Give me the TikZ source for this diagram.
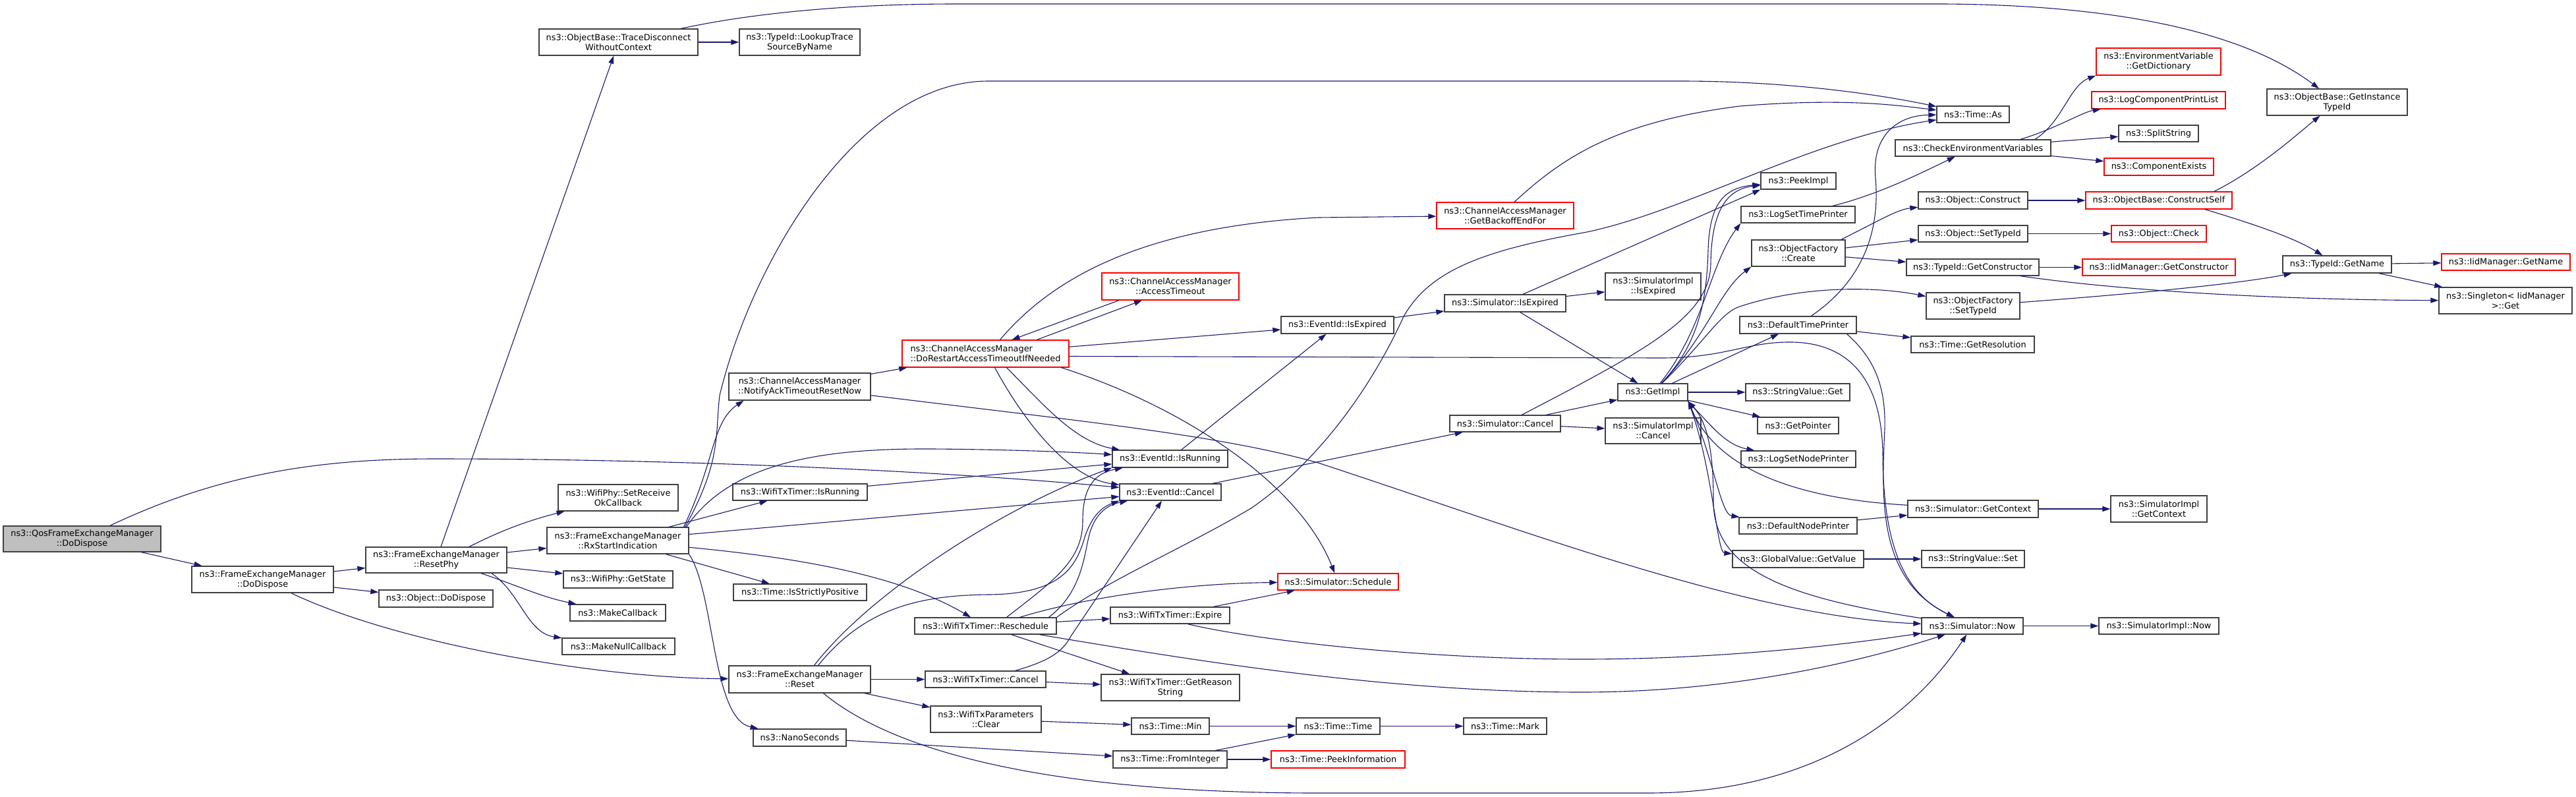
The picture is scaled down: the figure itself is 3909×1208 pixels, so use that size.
\documentclass[tikz,border=0pt]{standalone}
\usepackage{fontspec}
\setmainfont{DejaVu Sans}
\usetikzlibrary{arrows.meta}
\definecolor{mblue}{HTML}{191970}
\definecolor{nodegray}{HTML}{404040}
\definecolor{rootfill}{HTML}{BFBFBF}
\definecolor{nred}{HTML}{FF0000}
\tikzset{
  nd/.style={draw=nodegray, fill=white, line width=1.3pt, inner sep=0pt, align=center,
             font=\fontsize{12.9pt}{15pt}\selectfont, text=black},
  rd/.style={nd, draw=nred},
  sz/.style 2 args={minimum width=#1pt, minimum height=#2pt},
  e/.style={draw=mblue, line width=1.1pt, -{Triangle[length=12pt,width=8pt]}},
}
\begin{document}
\begin{tikzpicture}[x=1pt,y=-1pt]
\fill[white] (0,0) rectangle (3909,1208);
\useasboundingbox (0,0) rectangle (3909,1208);
% ---------- nodes ----------
\node[nd,sz={239}{39},fill=rootfill] (qos) at (124.5,817.5) {ns3::QosFrameExchangeManager\\::DoDispose};
\node[nd,sz={215}{40}] (femdd) at (398.5,879) {ns3::FrameExchangeManager\\::DoDispose};
\node[nd,sz={214}{39}] (resetphy) at (662,849.5) {ns3::FrameExchangeManager\\::ResetPhy};
\node[nd,sz={173}{26}] (objdd) at (661.5,908) {ns3::Object::DoDispose};
\node[nd,sz={241}{40}] (trace) at (938.5,64) {ns3::ObjectBase::TraceDisconnect\\WithoutContext};
\node[nd,sz={183}{40}] (lookup) at (1213.5,64) {ns3::TypeId::LookupTrace\\SourceByName};
\node[nd,sz={182}{40}] (setrecv) at (938,755) {ns3::WifiPhy::SetReceive\\OkCallback};
\node[nd,sz={215}{40}] (rxstart) at (937.5,820) {ns3::FrameExchangeManager\\::RxStartIndication};
\node[nd,sz={166}{26}] (getstate) at (938,879) {ns3::WifiPhy::GetState};
\node[nd,sz={145}{25}] (makecb) at (937.5,929.5) {ns3::MakeCallback};
\node[nd,sz={171}{25}] (makenull) at (938.5,980.5) {ns3::MakeNullCallback};
\node[nd,sz={215}{41}] (notify) at (1213.5,586.5) {ns3::ChannelAccessManager\\::NotifyAckTimeoutResetNow};
\node[nd,sz={204}{25}] (txisrun) at (1214,746.5) {ns3::WifiTxTimer::IsRunning};
\node[nd,sz={202}{25}] (strict) at (1214,898.5) {ns3::Time::IsStrictlyPositive};
\node[nd,sz={215}{41}] (reset) at (1213.5,1030.5) {ns3::FrameExchangeManager\\::Reset};
\node[nd,sz={141}{26}] (nano) at (1213.5,1119) {ns3::NanoSeconds};
\node[rd,sz={253}{41},align=left] (dorestart) at (1495.5,536.5) {ns3::ChannelAccessManager\\::DoRestartAccessTimeoutIfNeeded};
\node[rd,sz={208}{41}] (access) at (1776,434.5) {ns3::ChannelAccessManager\\::AccessTimeout};
\node[nd,sz={175}{26}] (evisrun) at (1775.5,696) {ns3::EventId::IsRunning};
\node[nd,sz={154}{25}] (evcancel) at (1776,746.5) {ns3::EventId::Cancel};
\node[nd,sz={215}{25}] (resched) at (1495.5,949.5) {ns3::WifiTxTimer::Reschedule};
\node[nd,sz={183}{25}] (txcancel) at (1495.5,1030.5) {ns3::WifiTxTimer::Cancel};
\node[nd,sz={168}{40}] (txclear) at (1496,1091) {ns3::WifiTxParameters\\::Clear};
\node[nd,sz={181}{25}] (expire) at (1775.5,933.5) {ns3::WifiTxTimer::Expire};
\node[nd,sz={210}{40}] (reason) at (1776,1043) {ns3::WifiTxTimer::GetReason\\String};
\node[nd,sz={118}{25}] (tmin) at (1776,1101.5) {ns3::Time::Min};
\node[nd,sz={173}{26}] (fromint) at (1775.5,1152) {ns3::Time::FromInteger};
\node[nd,sz={171}{26}] (evexp) at (2029.5,493) {ns3::EventId::IsExpired};
\node[rd,sz={183}{25}] (schedule) at (2030.5,882.5) {ns3::Simulator::Schedule};
\node[nd,sz={127}{25}] (ttime) at (2030.5,1101.5) {ns3::Time::Time};
\node[rd,sz={203}{26}] (peekinfo) at (2030.5,1152) {ns3::Time::PeekInformation};
\node[rd,sz={208}{40}] (backoff) at (2284,327) {ns3::ChannelAccessManager\\::GetBackoffEndFor};
\node[nd,sz={184}{26}] (simisexp) at (2284,460) {ns3::Simulator::IsExpired};
\node[nd,sz={168}{25}] (simcancel) at (2284,642.5) {ns3::Simulator::Cancel};
\node[nd,sz={126}{25}] (tmark) at (2284,1101.5) {ns3::Time::Mark};
\node[nd,sz={145}{41}] (implisexp) at (2508.5,434.5) {ns3::SimulatorImpl\\::IsExpired};
\node[nd,sz={106}{26}] (getimpl) at (2508,595) {ns3::GetImpl};
\node[nd,sz={145}{39}] (implcancel) at (2508.5,653.5) {ns3::SimulatorImpl\\::Cancel};
\node[nd,sz={114}{25}] (peekimpl) at (2729,274.5) {ns3::PeekImpl};
\node[nd,sz={173}{25}] (logtime) at (2728.5,325.5) {ns3::LogSetTimePrinter};
\node[nd,sz={142}{40}] (ofcreate) at (2729,384) {ns3::ObjectFactory\\::Create};
\node[nd,sz={177}{26}] (deftime) at (2728.5,493) {ns3::DefaultTimePrinter};
\node[nd,sz={158}{26}] (strget) at (2728,595) {ns3::StringValue::Get};
\node[nd,sz={123}{25}] (getptr) at (2728.5,645.5) {ns3::GetPointer};
\node[nd,sz={174}{25}] (lognode) at (2729,696.5) {ns3::LogSetNodePrinter};
\node[nd,sz={179}{25}] (defnode) at (2728.5,797.5) {ns3::DefaultNodePrinter};
\node[nd,sz={199}{26}] (gvget) at (2728.5,848) {ns3::GlobalValue::GetValue};
\node[nd,sz={110}{25}] (timeas) at (2994,173.5) {ns3::Time::As};
\node[nd,sz={236}{25}] (checkenv) at (2994,224.5) {ns3::CheckEnvironmentVariables};
\node[nd,sz={166}{26}] (objconstruct) at (2994,304) {ns3::Object::Construct};
\node[nd,sz={166}{25}] (objsettid) at (2994,354.5) {ns3::Object::SetTypeId};
\node[nd,sz={201}{25}] (tidgetctor) at (2993.5,405.5) {ns3::TypeId::GetConstructor};
\node[nd,sz={142}{40}] (ofsettid) at (2994,464) {ns3::ObjectFactory\\::SetTypeId};
\node[nd,sz={187}{25}] (getres) at (2993.5,522.5) {ns3::Time::GetResolution};
\node[nd,sz={198}{26}] (simctx) at (2994,772) {ns3::Simulator::GetContext};
\node[nd,sz={156}{26}] (strset) at (2994,848) {ns3::StringValue::Set};
\node[nd,sz={154}{25}] (simnow) at (2993,949.5) {ns3::Simulator::Now};
\node[rd,sz={189}{41}] (getdict) at (3275.5,93.5) {ns3::EnvironmentVariable\\::GetDictionary};
\node[rd,sz={203}{26}] (logcomp) at (3275.5,152) {ns3::LogComponentPrintList};
\node[nd,sz={121}{25}] (split) at (3275.5,202.5) {ns3::SplitString};
\node[rd,sz={166}{26}] (compexists) at (3276,253) {ns3::ComponentExists};
\node[rd,sz={222}{26}] (constructself) at (3276,304) {ns3::ObjectBase::ConstructSelf};
\node[rd,sz={144}{25}] (objcheck) at (3276,354.5) {ns3::Object::Check};
\node[rd,sz={232}{25}] (iidctor) at (3276,405.5) {ns3::IidManager::GetConstructor};
\node[nd,sz={146}{40}] (implctx) at (3276,772) {ns3::SimulatorImpl\\::GetContext};
\node[nd,sz={182}{25}] (implnow) at (3276,949.5) {ns3::SimulatorImpl::Now};
\node[nd,sz={213}{40}] (getinst) at (3546.5,155) {ns3::ObjectBase::GetInstance\\TypeId};
\node[nd,sz={165}{26}] (tidname) at (3546.5,401) {ns3::TypeId::GetName};
\node[rd,sz={195}{25}] (iidname) at (3802.5,397.5) {ns3::IidManager::GetName};
\node[nd,sz={202}{40}] (singleton) at (3802,456) {ns3::Singleton< IidManager\\>::Get};
% ---------- edges ----------
\draw[e] (qos) -- (femdd);
\draw[e] (qos) .. controls (330,720) and (480,696) .. (660,696) .. controls (1000,696) and (1400,712) .. (evcancel);
\draw[e] (femdd) -- (resetphy);
\draw[e] (femdd) -- (objdd);
\draw[e] (femdd) .. controls (600,975) and (900,1028) .. (reset);
\draw[e] (resetphy) -- (trace);
\draw[e] ([xshift=50pt]resetphy.north) .. controls (760,805) and (800,790) .. (setrecv);
\draw[e] (resetphy) -- (rxstart);
\draw[e] (resetphy) -- (getstate);
\draw[e] ([xshift=68pt]resetphy.south) .. controls (790,890) and (820,905) .. (makecb);
\draw[e] ([xshift=84pt]resetphy.south) .. controls (790,900) and (800,960) .. (makenull);
\draw[e] (trace) -- (lookup);
\draw[e] (trace) .. controls (1150,18) and (1300,6) .. (1450,6) -- (2950,6) .. controls (3250,8) and (3420,60) .. (getinst);
\draw[e] ([xshift=100pt]rxstart.north) .. controls (1085,700) and (1080,640) .. ([xshift=-85pt]notify.south);
\draw[e] ([xshift=102pt]rxstart.north) .. controls (1095,700) and (1085,660) .. (1092,600) .. controls (1140,400) and (1300,123) .. (1500,123) -- (2550,123) .. controls (2720,123) and (2860,145) .. (timeas);
\draw[e] ([xshift=104pt]rxstart.north) .. controls (1110,700) and (1250,680) .. (1415,681) .. controls (1550,682) and (1650,687) .. (evisrun);
\draw[e] (rxstart) -- (txisrun);
\draw[e] (rxstart) -- (evcancel);
\draw[e] (rxstart) -- (strict);
\draw[e] (rxstart) .. controls (1200,845) and (1360,870) .. (resched);
\draw[e] (rxstart.south east) .. controls (1085,900) and (1080,1090) .. (nano);
\draw[e] (notify) -- (dorestart);
\draw[e] (notify) .. controls (1650,640) and (1850,660) .. (2000,702) .. controls (2300,800) and (2650,935) .. (simnow);
\draw[e] ([xshift=78pt]dorestart.north) -- ([xshift=-43pt]access.south);
\draw[e] ([xshift=-78pt]access.south) -- ([xshift=40pt]dorestart.north);
\draw[e] ([xshift=22pt]dorestart.north) .. controls (1590,430) and (1720,345) .. (2000,330) -- (backoff);
\draw[e] (dorestart) -- (evexp);
\draw[e] ([yshift=-4pt]dorestart.east) -- (2520,543) .. controls (2620,543) and (2650,518) .. (2720,519) .. controls (2810,521) and (2856,580) .. (2857,690) .. controls (2858,830) and (2890,900) .. (simnow);
\draw[e] ([xshift=32pt]dorestart.south) .. controls (1580,610) and (1630,670) .. (evisrun);
\draw[e] ([xshift=14pt]dorestart.south) .. controls (1560,650) and (1625,725) .. (evcancel);
\draw[e] ([xshift=115pt]dorestart.south) .. controls (1790,615) and (1970,730) .. (schedule);
\draw[e] (evisrun) -- (evexp);
\draw[e] (evexp) -- (simisexp);
\draw[e] (simisexp) -- (implisexp);
\draw[e] ([xshift=27pt]simisexp.north) -- (peekimpl.south west);
\draw[e] (simisexp) -- (getimpl);
\draw[e] (evcancel) -- (simcancel);
\draw[e] (simcancel) -- (implcancel);
\draw[e] (simcancel) -- (getimpl);
\draw[e] (simcancel) .. controls (2500,530) and (2595,480) .. (2596,400) .. controls (2597,320) and (2620,287) .. (peekimpl);
\draw[e] (getimpl) .. controls (2580,520) and (2590,450) .. (2592,380) .. controls (2594,310) and (2615,285) .. (peekimpl);
\draw[e] (getimpl) .. controls (2585,500) and (2595,400) .. (logtime.south west);
\draw[e] (getimpl) .. controls (2590,510) and (2610,440) .. (ofcreate.south west);
\draw[e] (getimpl) .. controls (2590,515) and (2610,475) .. (2640,465) .. controls (2740,432) and (2850,435) .. (ofsettid);
\draw[e] (getimpl) -- (deftime);
\draw[e] (getimpl) -- (strget);
\draw[e] (getimpl) -- (getptr);
\draw[e] (getimpl.south east) .. controls (2600,650) and (2620,675) .. (lognode);
\draw[e] (getimpl.south east) .. controls (2600,690) and (2610,780) .. (defnode);
\draw[e] (getimpl.south east) .. controls (2598,700) and (2605,838) .. (gvget);
\draw[e] (simctx) .. controls (2700,755) and (2600,700) .. (getimpl.south east);
\draw[e] (simnow) .. controls (2700,905) and (2600,860) .. (2600,760) .. controls (2600,680) and (2590,640) .. (getimpl.south east);
\draw[e] (logtime) .. controls (2850,295) and (2910,265) .. (checkenv);
\draw[e] ([xshift=94pt]checkenv.north) .. controls (3130,185) and (3140,130) .. (getdict.south west);
\draw[e] ([xshift=72pt]checkenv.north) .. controls (3120,195) and (3160,170) .. (logcomp);
\draw[e] (checkenv) -- (split);
\draw[e] (checkenv) -- (compexists);
\draw[e] ([xshift=65pt]ofcreate.north) .. controls (2860,330) and (2880,318) .. (objconstruct);
\draw[e] (ofcreate) -- (objsettid);
\draw[e] (ofcreate) -- (tidgetctor);
\draw[e] (objconstruct) -- (constructself);
\draw[e] ([xshift=84pt]constructself.north) .. controls (3430,255) and (3490,200) .. (getinst);
\draw[e] ([xshift=70pt]constructself.south) .. controls (3420,340) and (3480,360) .. (tidname);
\draw[e] (objsettid) -- (objcheck);
\draw[e] (tidgetctor) -- (iidctor);
\draw[e] ([xshift=72pt]tidgetctor.south) .. controls (3250,445) and (3500,455) .. (singleton);
\draw[e] (ofsettid) .. controls (3250,445) and (3400,430) .. (tidname);
\draw[e] (tidname) -- (iidname);
\draw[e] (tidname) -- (singleton);
\draw[e] (deftime) .. controls (2835,420) and (2852,340) .. (2846,270) .. controls (2840,205) and (2880,175) .. (timeas);
\draw[e] (deftime) -- (getres);
\draw[e] ([xshift=74pt]deftime.south) .. controls (2840,540) and (2862,580) .. (2860,650) .. controls (2855,760) and (2850,880) .. (simnow);
\draw[e] (defnode) -- (simctx);
\draw[e] (gvget) -- (strset);
\draw[e] (simnow) -- (implnow);
\draw[e] (simctx) -- (implctx);
\draw[e] ([xshift=14pt]backoff.north) .. controls (2370,240) and (2450,185) .. (2640,161) .. controls (2800,148) and (2880,160) .. (timeas);
\draw[e] (resched.north east) .. controls (1680,880) and (1800,830) .. (1900,770) .. controls (2000,700) and (2080,590) .. (2130,480) .. controls (2170,410) and (2250,380) .. (2408,352) .. controls (2560,320) and (2750,210) .. (timeas);
\draw[e] ([xshift=32pt]resched.north) .. controls (1600,880) and (1643,850) .. (1643,790) .. controls (1643,740) and (1660,718) .. (evisrun);
\draw[e] ([xshift=96pt]resched.north) .. controls (1640,900) and (1645,845) .. (1652,815) .. controls (1660,780) and (1680,766) .. (evcancel);
\draw[e] ([xshift=52pt]resched.north) .. controls (1650,905) and (1800,885) .. (schedule);
\draw[e] (resched) -- (expire);
\draw[e] (resched) -- (reason);
\draw[e] ([xshift=82pt]resched.south) .. controls (1800,1000) and (2100,1050) .. (2400,1050) .. controls (2650,1050) and (2850,995) .. (simnow);
\draw[e] (expire) -- (schedule);
\draw[e] ([xshift=27pt]expire.south) .. controls (1900,970) and (2150,1000) .. (2400,1000) .. controls (2650,1000) and (2850,970) .. (simnow);
\draw[e] (txcancel) .. controls (1590,1003) and (1612,990) .. (1625,965) -- ([xshift=-13pt]evcancel.south);
\draw[e] (txcancel) -- (reason);
\draw[e] (reset) -- (txcancel);
\draw[e] (reset) -- (txclear);
\draw[e] ([xshift=36pt]reset.south) .. controls (1320,1110) and (1500,1203) .. (2000,1203) -- (2500,1203) .. controls (2750,1203) and (2900,1090) .. (simnow);
\draw[e] ([xshift=22pt]reset.north) .. controls (1320,900) and (1520,770) .. (evisrun.south west);
\draw[e] ([xshift=28pt]reset.north) .. controls (1310,925) and (1390,903) .. (1500,902) .. controls (1610,901) and (1633,860) .. (1646,815) .. controls (1656,785) and (1670,770) .. (evcancel.south west);
\draw[e] (txisrun) -- (evisrun);
\draw[e] (nano) -- (fromint);
\draw[e] (txclear) -- (tmin);
\draw[e] (tmin) -- (ttime);
\draw[e] (fromint) -- (ttime);
\draw[e] (fromint) -- (peekinfo);
\draw[e] (ttime) -- (tmark);
\end{tikzpicture}
\end{document}
